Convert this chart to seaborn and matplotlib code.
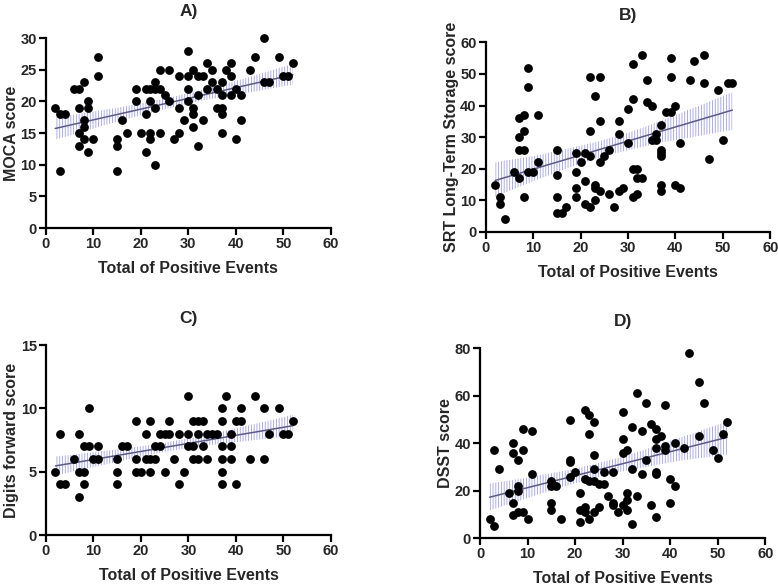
import numpy as np
import pandas as pd
import matplotlib.pyplot as plt
import seaborn as sns

# values
moca_events = [2, 3, 4, 3, 6, 7, 7, 7, 7, 8, 8, 8, 8, 9, 9, 9, 10, 11, 11,
               15, 15, 15, 16, 17, 19, 19, 20, 21, 21, 21, 22, 22, 22, 22,
               23, 23, 23, 23, 24, 24, 24, 25, 26, 26, 27, 28, 28, 28, 29,
               30, 30, 30, 30, 31, 31, 31, 31, 32, 32, 32, 33, 33, 34, 34,
               35, 35, 36, 36, 37, 37, 37, 37, 37, 38, 39, 39, 39, 40, 40,
               41, 41, 43, 44, 46, 46, 47, 49, 50, 51, 52]
moca_score = [19, 18, 18, 9, 22, 22, 19, 15, 13, 23, 17, 16, 14, 20, 19, 12, 14, 27, 24,
              14, 13, 9, 17, 15, 22, 20, 15, 22, 18, 12, 22, 20, 15, 14,
              23, 22, 19, 10, 25, 22, 15, 21, 25, 20, 14, 24, 19, 15, 17,
              28, 24, 22, 20, 25, 19, 18, 16, 24, 21, 13, 24, 17, 26, 22,
              25, 23, 22, 19, 23, 21, 19, 18, 15, 25, 26, 24, 21, 22, 14,
              21, 17, 25, 27, 30, 23, 23, 27, 24, 24, 26]

srt_events = [2, 3, 3, 4, 6, 7, 7, 7, 7, 8, 8, 8, 8, 9, 9, 9, 10, 11, 11,
              15, 15, 15, 15, 16, 17, 19, 19, 19, 19, 20, 21, 21, 21,
              22, 22, 22, 22, 23, 23, 23, 23, 24, 24, 24, 24, 25, 26, 26,
              27, 28, 28, 28, 29, 30, 30, 31, 31, 31, 31, 32, 32, 32,
              33, 33, 34, 34, 35, 35, 36, 36, 37, 37, 37, 37, 37, 37,
              38, 39, 39, 39, 40, 40, 41, 41, 43, 44, 46, 46, 47, 49, 50, 51, 52]
srt_score = [15, 11, 9, 4, 19, 30, 36, 26, 17, 37, 32, 26, 11, 52, 46, 19, 19, 37, 22,
             26, 18, 11, 6, 6, 8, 25, 19, 14, 11, 22, 25, 16, 9,
             49, 32, 24, 8, 43, 15, 14, 10, 49, 35, 22, 13, 24, 26, 12,
             8, 35, 31, 13, 14, 39, 28, 53, 42, 20, 11, 20, 17, 12,
             56, 17, 48, 41, 40, 29, 31, 29, 34, 26, 25, 24, 15, 13,
             38, 55, 49, 38, 40, 15, 28, 14, 48, 54, 56, 47, 23, 45, 29, 47, 47]

digits_events = [2, 3, 3, 4, 6, 7, 7, 7, 8, 8, 8, 9, 9, 10, 11, 11,
                 15, 15, 15, 16, 17, 19, 19, 19, 20, 21, 21, 22, 22, 22,
                 23, 23, 24, 24, 25, 25, 26, 26, 27, 28, 28, 29,
                 30, 30, 30, 31, 31, 31, 32, 32, 32, 33, 33, 34, 34, 35, 36,
                 37, 37, 37, 37, 37, 37, 38, 39, 39, 39, 40, 40, 41, 41,
                 43, 44, 46, 46, 47, 49, 50, 51, 52]
digits_score = [5, 8, 4, 4, 6, 8, 5, 3, 7, 5, 4, 10, 7, 6, 7, 6,
                6, 5, 4, 7, 7, 9, 6, 5, 5, 8, 6, 9, 6, 5,
                7, 6, 8, 7, 8, 5, 9, 8, 6, 8, 4, 5,
                11, 8, 7, 9, 7, 6, 9, 8, 6, 9, 7, 8, 6, 8, 8,
                10, 9, 7, 6, 5, 4, 11, 8, 7, 6, 9, 4, 10, 9,
                6, 11, 10, 6, 8, 10, 8, 8, 9]

dsst_events = [2, 3, 3, 4, 6, 7, 7, 7, 7, 8, 8, 8, 8, 9, 9, 9, 10, 11, 11,
               15, 15, 15, 15, 16, 17, 19, 19, 19, 19, 20, 21, 21, 21,
               22, 22, 22, 22, 23, 23, 23, 23, 24, 24, 24, 24, 24, 25, 25,
               26, 26, 27, 28, 28, 28, 29, 30, 30, 30, 30, 31, 31, 31, 31,
               32, 32, 32, 33, 33, 34, 34, 35, 35, 36, 36, 37, 37, 37, 37, 37, 37,
               38, 39, 39, 39, 41, 40, 40, 41, 43, 44, 46, 46, 47, 49, 50, 51, 52]
dsst_score = [8, 5, 37, 29, 19, 15, 10, 40, 36, 33, 22, 20, 11, 46, 37, 11, 8, 45, 27,
              24, 22, 15, 12, 22, 8, 50, 33, 32, 26, 28, 19, 12, 7,
              54, 25, 13, 11, 52, 44, 24, 8, 49, 35, 29, 24, 11, 23, 13,
              23, 28, 18, 28, 15, 14, 11, 53, 42, 36, 14, 37, 19, 16, 12,
              47, 29, 6, 61, 18, 45, 27, 57, 33, 48, 14, 46, 42, 38, 28, 27, 9,
              43, 56, 39, 37, 40, 25, 15, 22, 38, 78, 66, 43, 57, 37, 34, 44, 49]

panels = [
    ("A)", moca_events, moca_score, "MOCA score", [0, 5, 10, 15, 20, 25, 30]),
    ("B)", srt_events, srt_score, "SRT Long-Term Storage score", [0, 10, 20, 30, 40, 50, 60]),
    ("C)", digits_events, digits_score, "Digits forward score", [0, 5, 10, 15]),
    ("D)", dsst_events, dsst_score, "DSST score", [0, 20, 40, 60, 80]),
]
x_ticks = [0, 10, 20, 30, 40, 50, 60]

sns.set_theme(style="ticks")
plt.rcParams['font.family'] = ['Liberation Sans', 'DejaVu Sans']
plt.rcParams['hatch.linewidth'] = 0.6

fig = plt.figure(figsize=(7.78, 5.86), dpi=100)
axes_pos = [
    [0.0587, 0.6109, 0.3667, 0.3242],
    [0.6243, 0.6041, 0.3658, 0.3237],
    [0.0591, 0.0870, 0.3663, 0.3242],
    [0.6170, 0.0814, 0.3667, 0.3242],
]

for pos, (title, xs, ys, ylabel, yticks) in zip(axes_pos, panels):
    ax = fig.add_axes(pos)
    df = pd.DataFrame({"events": xs, "score": ys})

    sns.regplot(data=df, x="events", y="score", ax=ax, scatter=False,
                ci=95, n_boot=1000, seed=3,
                line_kws={"color": "#5b5b86", "linewidth": 1.1})
    band = ax.collections[-1]
    band.set_facecolor("none")
    band.set_edgecolor("#9e9ee8")
    band.set_hatch("||||||")
    band.set_linewidth(0)
    band.set_alpha(None)

    sns.scatterplot(data=df, x="events", y="score", ax=ax, color="black",
                    s=40, edgecolor="black", linewidth=0, zorder=3, clip_on=False)

    ax.set_xlim(0, 60)
    ax.set_ylim(0, yticks[-1])
    ax.set_xticks(x_ticks)
    ax.set_yticks(yticks)
    ax.set_xlabel("Total of Positive Events", fontsize=11.5, fontweight="bold", labelpad=7)
    ax.set_ylabel(ylabel, fontsize=11.5, fontweight="bold", labelpad=1)
    ax.set_title(title, fontsize=12.5, fontweight="bold", pad=16)
    ax.tick_params(axis="both", labelsize=10.5, width=1.6, length=5, color="black", pad=1.5)
    for lbl in ax.get_xticklabels() + ax.get_yticklabels():
        lbl.set_fontweight("bold")
    sns.despine(ax=ax)
    for side in ["left", "bottom"]:
        ax.spines[side].set_linewidth(1.6)
        ax.spines[side].set_color("black")

fig.savefig("out.png", dpi=100)
